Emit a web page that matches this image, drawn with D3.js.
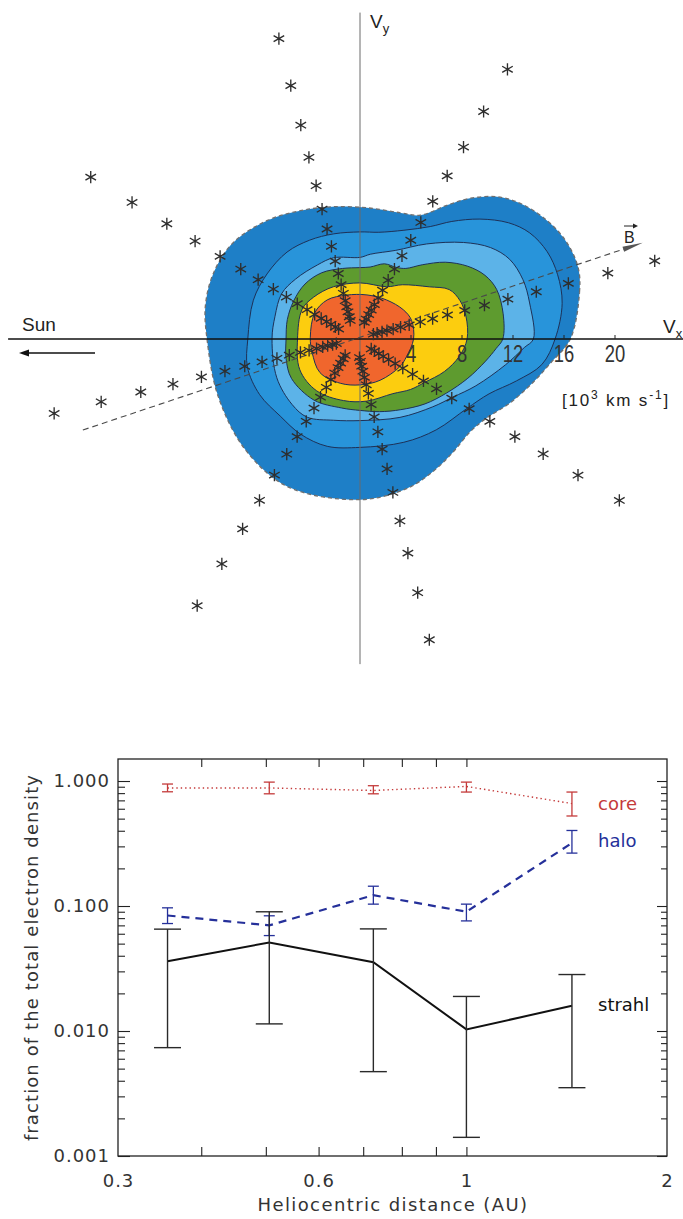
<!DOCTYPE html>
<html>
<head>
<meta charset="utf-8">
<script src="https://cdn.jsdelivr.net/npm/d3@7"></script>
<style>
  body { margin: 0; background: #fff; }
  svg { display: block; }
</style>
</head>
<body>
<svg id="fig" width="683" height="1219"></svg>
<script>
// ---------------- Upper panel: electron velocity distribution ----------------
// Iso-density contours, polar form: [angle from +Vx in degrees, speed in 10^3 km/s]
const contourOuter = [[0,16.5],[12,17.6],[18,18.0],[25,17.9],[32,17.4],[40,16.5],[46,15.5],[52,14.0],[57,12.5],[64,10.8],[72,10.4],[86,10.3],[102,10.6],[115,11.1],[128,11.8],[143,12.5],[156,12.6],[168,12.4],[180,12.0],[202,12.0],[224,12.5],[244,12.9],[270,12.6],[287,12.3],[298,11.9],[309,11.5],[320,11.3],[328,11.7],[337,12.8],[346,14.0],[353,15.1]];
const contour1 = [[0,15.3],[10,16.1],[18,16.3],[25,16.2],[32,15.7],[38,14.8],[45,13.3],[52,11.7],[58,10.4],[68,9.2],[80,8.5],[90,8.4],[104,8.5],[117,8.7],[130,8.9],[145,8.9],[160,8.9],[180,8.8],[194,9.1],[209,9.0],[224,8.7],[238,8.8],[253,8.8],[270,8.5],[293,8.8],[310,9.3],[327,10.0],[337,11.0],[345,12.7],[352,14.4]];
const contour2 = [[0,13.6],[12,13.6],[20,13.6],[28,13.3],[35,12.5],[43,11.1],[55,9.1],[68,7.5],[83,6.7],[90,6.4],[108,6.7],[120,6.7],[137,6.9],[150,7.1],[165,6.9],[180,6.9],[205,7.2],[224,7.4],[236,7.4],[252,6.7],[270,6.4],[297,6.9],[317,7.8],[328,8.6],[338,9.8],[350,11.6],[357,12.9]];
const contour3 = [[0,11.2],[10,11.4],[20,11.4],[27,11.0],[34,10.2],[42,9.0],[50,7.6],[57,6.6],[63,6.3],[72,6.2],[82,5.7],[90,5.6],[104,5.7],[120,6.0],[135,6.1],[150,6.0],[165,5.9],[180,5.8],[195,6.0],[210,6.2],[233,6.0],[255,5.6],[270,5.6],[285,5.9],[300,6.4],[315,7.2],[328,8.0],[340,9.0],[350,10.0],[356,10.7]];
const contour4 = [[0,8.4],[12,8.5],[21,8.4],[29,8.0],[37,6.8],[52,5.4],[63,4.6],[90,4.4],[117,4.6],[138,4.9],[153,5.1],[180,4.9],[207,5.3],[230,5.3],[255,5.0],[276,4.9],[301,5.0],[315,5.6],[326,6.1],[339,7.1],[350,7.9]];
const contour5 = [[0,4.2],[20,4.3],[34,4.1],[56,3.7],[81,3.5],[107,3.6],[130,4.0],[150,4.1],[178,3.9],[196,3.9],[220,4.1],[246,3.8],[270,3.6],[296,3.6],[325,3.8],[339,3.9]];

// Measurement grid: look directions (deg) and energy-channel speeds (10^3 km/s)
const lookAngles = [14.6, 60.5, 104.2, 148.5, 193.9, 239.4, 283.9, 328.6];
const channelSpeeds = [24.3, 20.5, 17.3, 14.7, 12.4, 10.5, 8.9, 7.5, 6.3, 5.3, 4.4, 3.7, 3.1, 2.6, 2.2, 1.8, 1.5];
const gridOrigin = [-0.4, 0];

// Magnetic field direction (deg) and extent of the drawn field line (10^3 km/s)
const fieldAngle = 18.5;
const fieldExtent = [-22.5, 23.8];

const vxTicks = [4, 8, 12, 16, 20];

// ---------------- Lower panel: density fractions vs heliocentric distance ----------------
const distanceAU = [0.356, 0.506, 0.725, 1.0, 1.44];
const coreFrac   = [0.880, 0.880, 0.840, 0.905, 0.660];
const coreLow    = [0.820, 0.790, 0.790, 0.816, 0.525];
const coreHigh   = [0.946, 0.980, 0.917, 0.980, 0.816];
const haloFrac   = [0.084, 0.070, 0.122, 0.090, 0.319];
const haloLow    = [0.0724, 0.058, 0.1035, 0.076, 0.265];
const haloHigh   = [0.0967, 0.0835, 0.144, 0.1035, 0.402];
const strahlFrac = [0.0362, 0.051, 0.0355, 0.0103, 0.0159];
const strahlLow  = [0.00736, 0.0114, 0.00473, 0.00141, 0.00352];
const strahlHigh = [0.0653, 0.0899, 0.0656, 0.0189, 0.0283];

const xMajor = [0.3, 0.6, 1, 2];
const xMinor = [0.4, 0.5, 0.6, 0.7, 0.8, 0.9, 1.0];
const yMajor = [0.001, 0.01, 0.1, 1];
const yMinor = [2,3,4,5,6,7,8,9].flatMap(k => [k*0.001, k*0.01, k*0.1]);

// ====================================================================
const svg = d3.select("#fig");
const rad = Math.PI / 180;

// velocity-space scales (10^3 km/s -> px)
const vx = d3.scaleLinear().domain([0, 20]).range([360, 615]);
const vy = d3.scaleLinear().domain([0, 20]).range([339, 84]);

const upper = svg.append("g");

// filled contour bands, outermost first
const bandFill = ["#1e7fc7", "#2894da", "#5cb3e8", "#5e9b2f", "#fccd0f", "#f0662d"];
const contours = [contourOuter, contour1, contour2, contour3, contour4, contour5];
const polarLine = d3.line()
  .x(d => vx(d[1] * Math.cos(d[0] * rad)))
  .y(d => vy(d[1] * Math.sin(d[0] * rad)))
  .curve(d3.curveCatmullRomClosed.alpha(0.5));

contours.forEach((c, i) => {
  upper.append("path")
    .attr("d", polarLine(c))
    .attr("fill", bandFill[i])
    .attr("stroke", i === 0 ? "#6f6f6f" : "#1d3158")
    .attr("stroke-width", i === 0 ? 1.3 : 1)
    .attr("stroke-dasharray", i === 0 ? "4,3" : null);
});

// coordinate axes
upper.append("line")
  .attr("x1", vx(0)).attr("x2", vx(0))
  .attr("y1", vy(25.6)).attr("y2", vy(-25.5))
  .attr("stroke", "#6a6a6a").attr("stroke-width", 1);
upper.append("line")
  .attr("x1", vx(-27.6)).attr("x2", vx(25.4))
  .attr("y1", vy(0)).attr("y2", vy(0))
  .attr("stroke", "#111").attr("stroke-width", 1.6);

// magnetic field direction (dashed) with arrow head
const fa = fieldAngle * rad;
const fp = s => [vx(gridOrigin[0] + s * Math.cos(fa)), vy(gridOrigin[1] + s * Math.sin(fa))];
upper.append("line")
  .attr("x1", fp(fieldExtent[0])[0]).attr("y1", fp(fieldExtent[0])[1])
  .attr("x2", fp(fieldExtent[1] - 1.2)[0]).attr("y2", fp(fieldExtent[1] - 1.2)[1])
  .attr("stroke", "#4a4a4a").attr("stroke-width", 1.1).attr("stroke-dasharray", "6,4");
{
  const tip = fp(fieldExtent[1]), base = fp(fieldExtent[1] - 1.6);
  const nx = Math.sin(fa) * 2.6, ny = Math.cos(fa) * 2.6;
  upper.append("path")
    .attr("d", `M${tip[0]},${tip[1]}L${base[0] - nx},${base[1] - ny}L${base[0] + nx},${base[1] + ny}Z`)
    .attr("fill", "#555");
}

// measurement points
const star = d3.symbol().type(d3.symbolAsterisk).size(105);
const gridPts = lookAngles.flatMap(a => channelSpeeds.map(s => [
  gridOrigin[0] + s * Math.cos(a * rad),
  gridOrigin[1] + s * Math.sin(a * rad)
]));
upper.append("g").selectAll("path").data(gridPts).join("path")
  .attr("transform", d => `translate(${vx(d[0])},${vy(d[1])})`)
  .attr("d", star)
  .attr("fill", "none")
  .attr("stroke", "#2e2e2e")
  .attr("stroke-width", 1.35);

// axis tick labels on Vx
upper.append("g").selectAll("g").data(vxTicks).join("g")
  .attr("transform", d => `translate(${vx(d)},0)`)
  .call(g => {
    g.append("line").attr("y1", vy(0)).attr("y2", vy(0) - 4).attr("stroke", "#222");
    g.append("text")
      .attr("transform", `translate(0,${vy(0) + 23}) scale(0.8,1)`)
      .attr("text-anchor", "middle")
      .attr("font-family", "Liberation Sans, Arial, sans-serif")
      .attr("font-size", 23)
      .attr("fill", "#333")
      .text(d => d);
  });

const lab = (x, y, size) => upper.append("text")
  .attr("x", x).attr("y", y)
  .attr("font-family", "Liberation Sans, Arial, sans-serif")
  .attr("font-size", size).attr("fill", "#222");

// V_y and V_x
lab(370, 28, 19).text("V").append("tspan").attr("font-size", 13).attr("dy", 5).text("y");
lab(663, 333, 19).text("V").append("tspan").attr("font-size", 13).attr("dy", 5).text("x");

// Sun label and arrow
lab(22, 331, 19).text("Sun");
upper.append("line").attr("x1", 95).attr("x2", 27).attr("y1", 353).attr("y2", 353)
  .attr("stroke", "#111").attr("stroke-width", 1.4);
upper.append("path").attr("d", "M19,353L29,349.5L29,356.5Z").attr("fill", "#111");

// B label with vector arrow
lab(624, 243, 16).text("B");
upper.append("line").attr("x1", 624).attr("x2", 636).attr("y1", 226).attr("y2", 226)
  .attr("stroke", "#222").attr("stroke-width", 1);
upper.append("path").attr("d", "M638,226L633,223.5L633,228.5Z").attr("fill", "#222");

// unit label
{
  const t = lab(562, 406, 17).attr("letter-spacing", 1.8);
  t.append("tspan").text("[10");
  t.append("tspan").attr("font-size", 12).attr("dy", -7).text("3");
  t.append("tspan").attr("dy", 7).text(" km  s");
  t.append("tspan").attr("font-size", 12).attr("dy", -7).text("-1");
  t.append("tspan").attr("dy", 7).text("]");
}

// ---------------- Lower panel ----------------
const L = 118, R = 667, T = 759, B = 1156;
const xAU = d3.scaleLog().domain([0.3, 2]).range([L, R]);
const yF = d3.scaleLog().domain([0.001, 1.5]).range([B, T]);

const lower = svg.append("g");
const font = "DejaVu Sans, Verdana, sans-serif";

lower.append("rect").attr("x", L).attr("y", T).attr("width", R - L).attr("height", B - T)
  .attr("fill", "none").attr("stroke", "#222").attr("stroke-width", 1.3);

const styleAxis = g => {
  g.select(".domain").remove();
  g.selectAll("line").attr("stroke", "#222").attr("stroke-width", 1.1);
  g.attr("font-family", font).attr("font-size", 18).attr("color", "#333");
};

lower.append("g").attr("transform", `translate(${L},0)`)
  .call(d3.axisLeft(yF).tickValues(yMajor).tickSize(-12).tickPadding(8).tickFormat(d3.format(".3f")))
  .call(styleAxis)
  .call(g => g.selectAll("text").attr("letter-spacing", 1));
lower.append("g").attr("transform", `translate(${L},0)`)
  .call(d3.axisLeft(yF).tickValues(yMinor).tickSize(-7).tickFormat(""))
  .call(styleAxis);
lower.append("g").attr("transform", `translate(${R},0)`)
  .call(d3.axisRight(yF).tickValues(yMajor).tickSize(-10).tickFormat(""))
  .call(styleAxis);
lower.append("g").attr("transform", `translate(${R},0)`)
  .call(d3.axisRight(yF).tickValues(yMinor).tickSize(-6).tickFormat(""))
  .call(styleAxis);

lower.append("g").attr("transform", `translate(0,${B})`)
  .call(d3.axisBottom(xAU).tickValues(xMajor).tickSize(0).tickPadding(18).tickFormat(d3.format("~g")))
  .call(styleAxis)
  .call(g => g.selectAll("text").attr("letter-spacing", 1));
lower.append("g").attr("transform", `translate(0,${B})`)
  .call(d3.axisBottom(xAU).tickValues(xMinor).tickSize(-9).tickFormat(""))
  .call(styleAxis);
lower.append("g").attr("transform", `translate(0,${T})`)
  .call(d3.axisTop(xAU).tickValues(xMinor).tickSize(-8).tickFormat(""))
  .call(styleAxis);

// axis titles
lower.append("text")
  .attr("transform", `translate(38,${(T + B) / 2}) rotate(-90)`)
  .attr("text-anchor", "middle").attr("font-family", font).attr("font-size", 18)
  .attr("fill", "#333").attr("letter-spacing", 1.1)
  .text("fraction of the total electron density");
lower.append("text")
  .attr("x", 393).attr("y", 1211)
  .attr("text-anchor", "middle").attr("font-family", font).attr("font-size", 18)
  .attr("fill", "#333").attr("letter-spacing", 1.4)
  .text("Heliocentric distance (AU)");

// series
const series = [
  { v: coreFrac, lo: coreLow, hi: coreHigh, color: "#c43a3a", dash: "1.4,3", width: 1.4, cap: 5.5, ebw: 1.3, name: "core", ly: 810 },
  { v: haloFrac, lo: haloLow, hi: haloHigh, color: "#25309a", dash: "8,6", width: 2.2, cap: 5.5, ebw: 1.3, name: "halo", ly: 847 },
  { v: strahlFrac, lo: strahlLow, hi: strahlHigh, color: "#111", dash: null, width: 2, cap: 13.5, ebw: 1.4, name: "strahl", ly: 1011 }
];

series.forEach(s => {
  const pts = distanceAU.map((d, i) => ({ d, v: s.v[i], lo: s.lo[i], hi: s.hi[i] }));
  lower.append("path")
    .attr("d", d3.line().x(p => xAU(p.d)).y(p => yF(p.v))(pts))
    .attr("fill", "none").attr("stroke", s.color).attr("stroke-width", s.width)
    .attr("stroke-dasharray", s.dash);
  const eb = lower.append("g").attr("stroke", s.color === "#111" ? "#2a2a2a" : s.color)
    .attr("stroke-width", s.ebw);
  pts.forEach(p => {
    const x = xAU(p.d);
    eb.append("line").attr("x1", x).attr("x2", x).attr("y1", yF(p.lo)).attr("y2", yF(p.hi));
    eb.append("line").attr("x1", x - s.cap).attr("x2", x + s.cap).attr("y1", yF(p.lo)).attr("y2", yF(p.lo));
    eb.append("line").attr("x1", x - s.cap).attr("x2", x + s.cap).attr("y1", yF(p.hi)).attr("y2", yF(p.hi));
  });
  lower.append("text").attr("x", 598).attr("y", s.ly)
    .attr("font-family", font).attr("font-size", 18).attr("fill", s.color)
    .text(s.name);
});
</script>
</body>
</html>
